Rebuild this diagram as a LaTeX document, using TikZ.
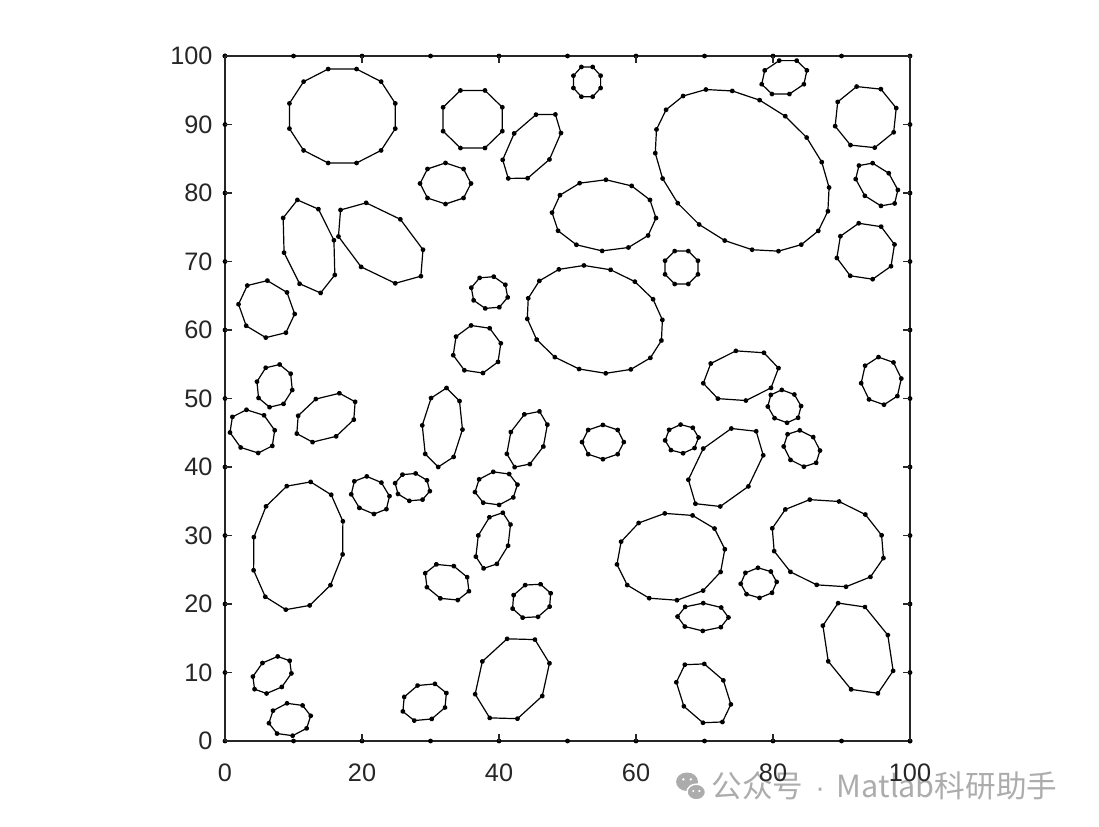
\documentclass[tikz,border=0pt]{standalone}
\usepackage{fontspec}
\setmainfont{Liberation Sans}
\newfontfamily\cjkfont{Noto Sans CJK SC}
\definecolor{axisgray}{RGB}{38,38,38}
\definecolor{markgray}{RGB}{172,172,172}
\tikzset{
  ring/.style={line width=0.5pt, line join=round},
  frame/.style={line width=0.55pt, draw=axisgray},
  ticklabel/.style={font=\fontsize{10.5}{12}\selectfont, text=axisgray, inner sep=0pt},
}
\newcommand{\dotr}{1pt}

\begin{document}
\begin{tikzpicture}[x=1mm,y=1mm]
\useasboundingbox (-32.85,-12.55) rectangle (127.59,108.18);

% watermark
\fill[markgray] (67.45,-5.95) ellipse (1.6 and 1.35);
\fill[markgray, draw=white, line width=0.6pt] (68.8,-7.45) ellipse (1.35 and 1.15);
\fill[white] (66.9,-5.6) circle (0.2) (68.0,-5.6) circle (0.2)
             (68.35,-7.3) circle (0.17) (69.25,-7.3) circle (0.17);
\node[text=markgray, font=\cjkfont\fontsize{12.7}{15}\selectfont, anchor=west, inner sep=0pt] (mark) at (70.95,-6.6)
  {公众号\hspace{5pt}{\rmfamily\fontsize{12}{14}\selectfont ·}\hspace{5pt}Matlab科研助手};

% box with its points and ticks
\draw[frame] (0,0) rectangle (100,100);
\foreach \v in {0,10,...,100} {
  \fill (\v,0) circle (\dotr) (\v,100) circle (\dotr)
        (0,\v) circle (\dotr) (100,\v) circle (\dotr);
  \draw[frame] (0,\v) -- (1,\v) (100,\v) -- (99,\v);
  \node[ticklabel, anchor=east] (yt\v) at (-1.75,\v) {\v};
}
\foreach \v in {0,20,...,100} {
  \draw[frame] (\v,0) -- (\v,1) (\v,100) -- (\v,99);
  \node[ticklabel] (xt\v) at (\v,-4.67) {\v};
}

% ellipses: centre x/y, half axes, turn, points, start angle
\foreach \cx/\cy/\a/\b/\r/\n/\p in {
  17.13/91.24/8.0/7.1/0/12/15, 36.16/90.77/4.68/4.55/0/8/22.5,
  52.85/96.23/2.15/2.35/0/8/22.5, 44.79/86.8/5.8/3.2/53.6/8/0,
  81.65/96.89/3.45/2.55/17/8/0, 93.53/91.08/4.65/4.65/0/8/16.5,
  75.5/83.31/14.2/10.1/-38.5/20/0, 32.19/81.39/3.72/3.0/0/8/0,
  55.33/76.74/7.6/5.2/-3/12/0, 95.15/81.24/3.8/2.4/-46.7/8/0,
  12.26/72.2/7.0/3.75/104/8/0, 22.73/72.69/7.6/4.5/-39.5/8/0,
  66.64/69.12/2.6/2.6/0/8/22.5, 93.53/71.5/4.33/4.2/0/8/13.6,
  38.61/65.47/2.75/2.4/-15/8/0, 53.99/61.55/10.2/7.6/-17.6/16/0,
  6.07/63.05/4.45/3.85/-50.7/8/0, 36.79/57.19/3.58/3.58/0/8/14,
  7.24/51.85/3.2/2.65/76.7/8/0, 14.74/47.2/4.85/3.1/28.6/8/0,
  3.99/45.2/3.6/2.9/-36/8/0, 31.73/45.77/5.8/2.95/84/8/0,
  44.1/44.05/4.45/2.6/66/8/0, 75.31/53.33/5.6/3.7/11.4/8/0,
  81.67/48.86/2.6/2.25/-40/8/0, 95.8/52.57/3.5/2.95/96.6/8/0,
  55.17/43.64/3.05/2.5/0/8/0, 66.69/44.1/2.45/2.1/5/8/0,
  73.11/39.93/6.9/4.3/50/8/0, 84.21/42.7/2.95/2.35/-45/8/0,
  21.22/35.88/3.1/2.45/-41/8/0, 27.37/37.06/2.6/2.05/-13/8/0,
  39.59/36.88/3.15/2.45/10/8/0, 10.69/28.5/9.5/6.6/79/12/0,
  39.15/29.26/4.3/2.3/71/8/0, 65.09/26.89/7.95/6.4/8/12/0,
  88.01/28.88/8.4/6.3/-15/12/0, 32.42/23.18/3.45/2.55/-22.5/8/0,
  44.76/20.45/3.0/2.5/22/8/0, 77.91/23.09/2.63/2.2/3/8/0,
  69.78/18.1/3.72/2.03/-1/8/0, 92.41/13.55/7.2/4.75/113.8/8/0,
  41.94/9.09/6.6/5.05/60/8/0, 6.88/9.64/3.3/2.25/39/8/0,
  9.46/3.14/3.1/2.4/10/8/0, 29.14/5.66/3.45/2.65/23/8/0,
  69.87/6.96/5.0/3.45/123.3/8/0}{
  \begin{scope}[shift={(\cx,\cy)}, rotate=\r]
    \draw[ring] ({\a*cos(\p)},{\b*sin(\p)})
      \foreach \k in {1,...,\n} { -- ({\a*cos(\p+360*\k/\n)},{\b*sin(\p+360*\k/\n)}) } -- cycle;
    \foreach \k in {1,...,\n}
      \fill ({\a*cos(\p+360*\k/\n)},{\b*sin(\p+360*\k/\n)}) circle (\dotr);
  \end{scope}
}
\end{tikzpicture}
\end{document}
